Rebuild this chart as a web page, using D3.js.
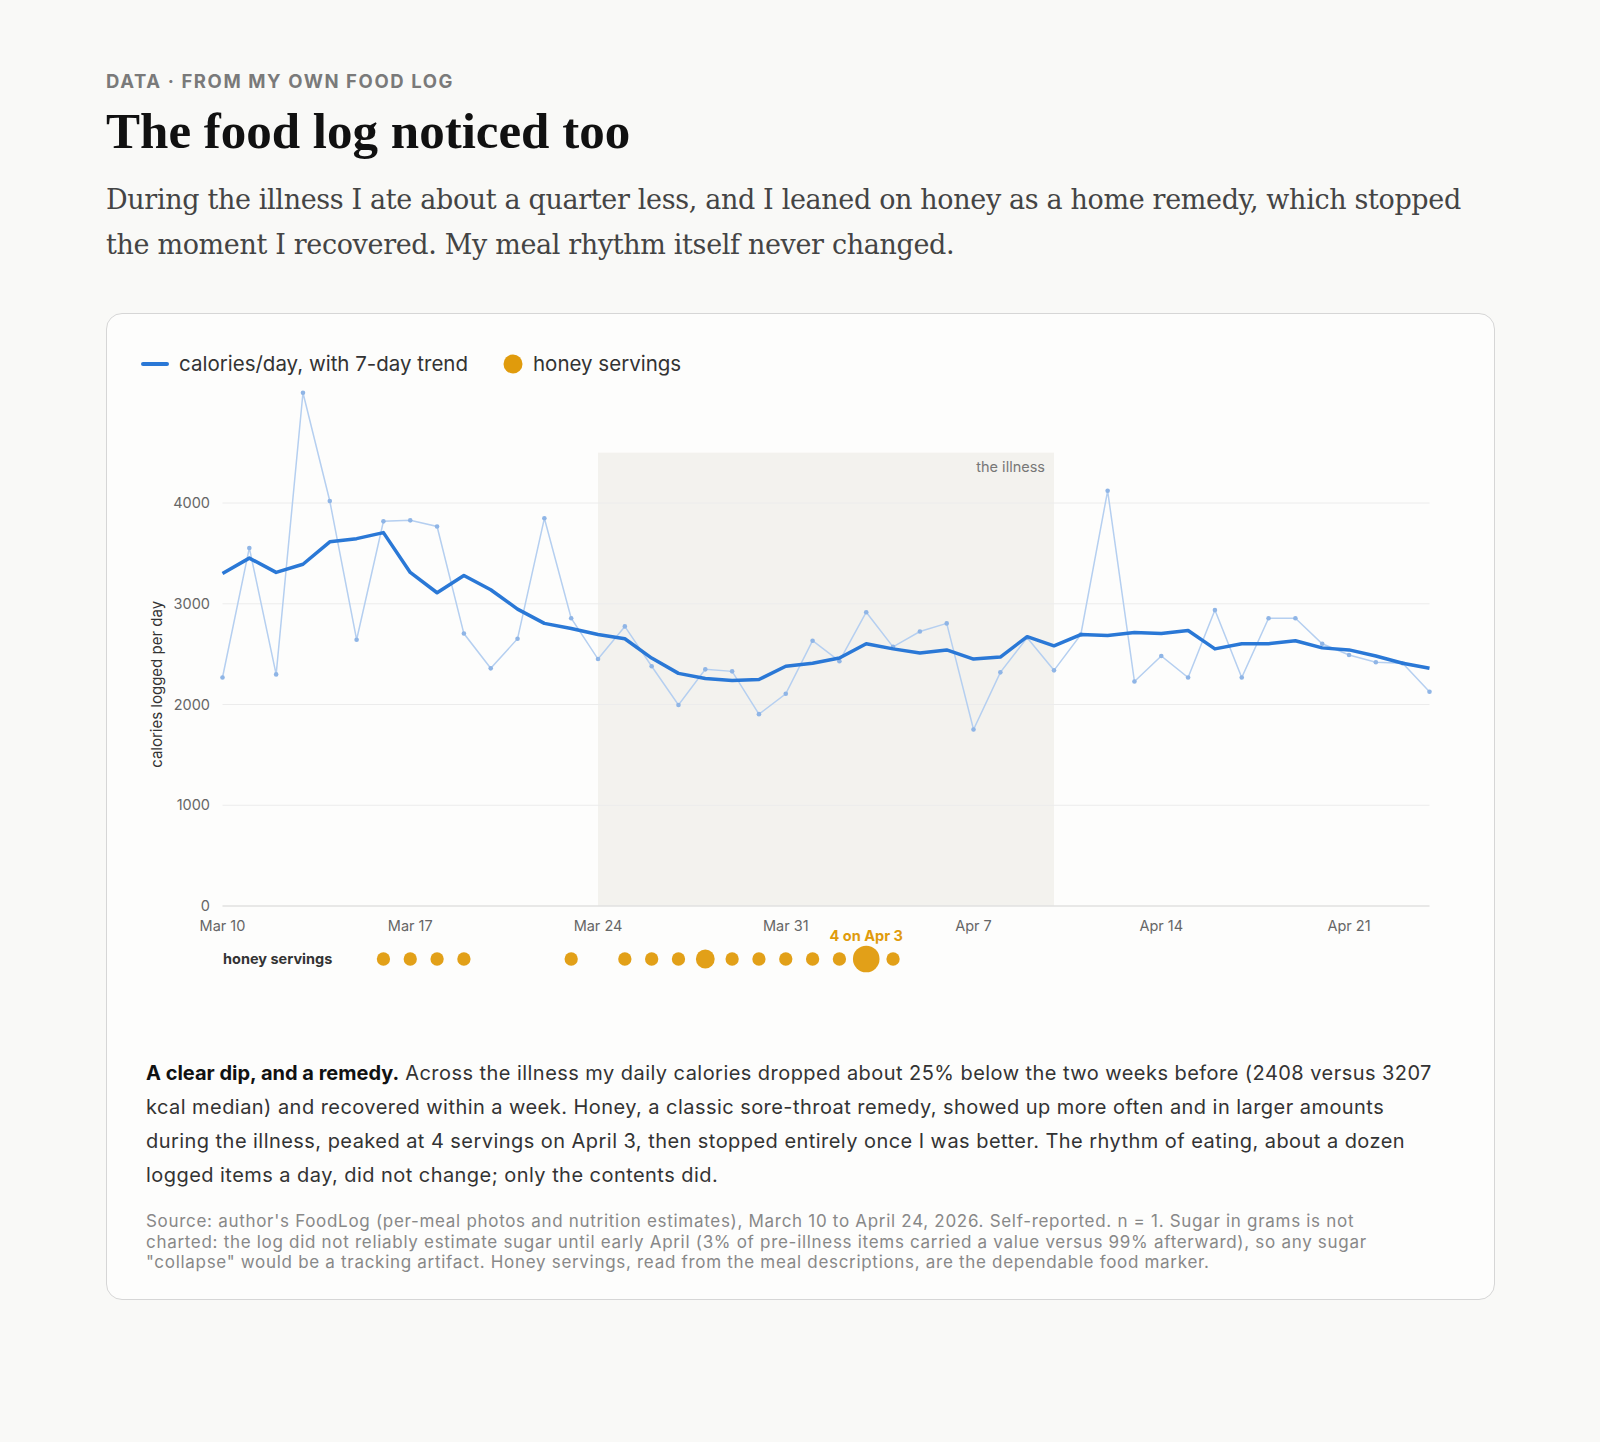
<!DOCTYPE html>
<html><head><meta charset="utf-8">
<script src="https://cdn.jsdelivr.net/npm/d3@7"></script>
<style>
body{margin:0;background:#f9f9f7;font-family:Inter,"Noto Sans",sans-serif;color:#222;}
.wrap{position:absolute;left:106px;top:0;width:1390px;}
.kicker{position:absolute;top:70px;font-size:18.5px;font-weight:700;letter-spacing:1.6px;color:#7a7a7a;}
h1{position:absolute;top:102px;margin:0;font-family:"Liberation Serif","Times New Roman",serif;font-size:51px;font-weight:700;color:#111;white-space:nowrap;}
.dek{position:absolute;top:177px;width:1390px;font-family:"DejaVu Serif",Georgia,serif;font-size:27px;line-height:45px;color:#444;letter-spacing:-0.35px;}
.card{position:absolute;left:106px;top:313px;width:1387px;height:985px;border:1.5px solid #d6d6d6;border-radius:16px;background:#fdfdfc;}
.note{position:absolute;left:39px;top:742px;width:1292px;font-size:20px;line-height:34px;color:#333;letter-spacing:0.45px;}
.src{position:absolute;left:39px;top:897px;width:1250px;font-size:17px;line-height:20.5px;color:#888;letter-spacing:0.7px;}
svg{position:absolute;left:0;top:0;}
</style></head><body>
<div class="wrap">
<div class="kicker">DATA · FROM MY OWN FOOD LOG</div>
<h1>The food log noticed too</h1>
<div class="dek">During the illness I ate about a quarter less, and I leaned on honey as a home remedy, which stopped the moment I recovered. My meal rhythm itself never changed.</div>
</div>
<div class="card">
<div class="note"><b style="color:#111;letter-spacing:0">A clear dip, and a remedy.</b> Across the illness my daily calories dropped about 25% below the two weeks before (2408 versus 3207 kcal median) and recovered within a week. Honey, a classic sore-throat remedy, showed up more often and in larger amounts during the illness, peaked at 4 servings on April 3, then stopped entirely once I was better. The rhythm of eating, about a dozen logged items a day, did not change; only the contents did.</div>
<div class="src">Source: author's FoodLog (per-meal photos and nutrition estimates), March 10 to April 24, 2026. Self-reported. n = 1. Sugar in grams is not charted: the log did not reliably estimate sugar until early April (3% of pre-illness items carried a value versus 99% afterward), so any sugar "collapse" would be a tracking artifact. Honey servings, read from the meal descriptions, are the dependable food marker.</div>
</div>
<svg id="chart" width="1600" height="1000"></svg>
<script>
// daily calories, Mar 10 .. Apr 24
var daily = [2268,3554,2299,5094,4020,2643,3818,3828,3767,2704,2359,2653,3848,2856,2451,2775,2380,1995,2349,2329,1904,2106,2633,2430,2916,2572,2724,2805,1752,2319,2663,2339,2694,4121,2228,2481,2268,2937,2268,2856,2856,2603,2491,2420,2410,2127];
var trend = [3301,3453,3311,3392,3615,3646,3706,3311,3109,3281,3139,2947,2805,2754,2694,2653,2461,2309,2258,2238,2248,2380,2410,2461,2603,2552,2511,2542,2451,2471,2673,2582,2694,2684,2714,2704,2734,2552,2603,2603,2633,2562,2542,2481,2410,2359];
// honey servings by day index
var honeyDays = [6,7,8,9,13,15,16,17,18,19,20,21,22,23,24,25];
var honeyCount = [1,1,1,1,1,1,1,1,2,1,1,1,1,1,4,1];
var illness = [new Date(2026,2,24), new Date(2026,3,10)];
var yTicks = [0,1000,2000,3000,4000];

var start = new Date(2026,2,10);
var dates = daily.map(function(d,i){ return d3.timeDay.offset(start,i); });

var svg = d3.select("#chart");
var x = d3.scaleTime().domain([start, dates[dates.length-1]]).range([222.5,1429.5]);
var y = d3.scaleLinear().domain([0,4000]).range([906,503]);
var r = d3.scaleSqrt().domain([0,4]).range([0,13.3]);
var blue = "#2a78d6", honey = "#e09b0c";

// illness band
svg.append("rect").attr("x",x(illness[0])).attr("width",x(illness[1])-x(illness[0]))
  .attr("y",y(4500)).attr("height",y(0)-y(4500)).attr("fill","#f3f2ee");
svg.append("text").attr("x",x(illness[1])-9).attr("y",y(4500)+19).attr("text-anchor","end")
  .attr("font-size",14.5).attr("fill","#777").text("the illness");

// grid
svg.selectAll(".grid").data(yTicks).enter().append("line")
  .attr("x1",x.range()[0]).attr("x2",x.range()[1]).attr("y1",y).attr("y2",y)
  .attr("stroke",function(d){ return d===0?"#e0e0e0":"#ececec"; }).attr("stroke-width",function(d){return d===0?1.5:1;});
svg.selectAll(".yt").data(yTicks).enter().append("text")
  .attr("x",210).attr("y",function(d){ return y(d)+5; }).attr("text-anchor","end")
  .attr("font-size",14.5).attr("fill","#666").text(function(d){ return d; });
svg.append("text").attr("transform","translate(162,"+y(2200)+") rotate(-90)")
  .attr("text-anchor","middle").attr("font-size",15).attr("fill","#333").text("calories logged per day");

// x ticks
var xTicks = d3.timeDay.range(start, d3.timeDay.offset(dates[dates.length-1],1), 7);
svg.selectAll(".xt").data(xTicks).enter().append("text")
  .attr("x",x).attr("y",931).attr("text-anchor","middle").attr("font-size",14.5).attr("fill","#666")
  .text(d3.timeFormat("%b %-d"));

// daily line
var line = d3.line().x(function(d,i){ return x(dates[i]); }).y(function(d){ return y(d); });
svg.append("path").datum(daily).attr("d",line).attr("fill","none").attr("stroke","#b5cff0").attr("stroke-width",1.5);
svg.selectAll(".dp").data(daily).enter().append("circle")
  .attr("cx",function(d,i){ return x(dates[i]); }).attr("cy",y).attr("r",2.3).attr("fill","#8fb5e6");
svg.append("path").datum(trend).attr("d",line).attr("fill","none").attr("stroke",blue).attr("stroke-width",3.5).attr("stroke-linejoin","round");

// honey row
svg.append("text").attr("x",223).attr("y",964).attr("font-size",14.5).attr("font-weight",700).attr("fill","#333").text("honey servings");
svg.selectAll(".hd").data(honeyDays).enter().append("circle")
  .attr("cx",function(d){ return x(dates[d]); }).attr("cy",959)
  .attr("r",function(d,i){ return r(honeyCount[i]); }).attr("fill",honey).attr("opacity",0.95);
var mi = honeyCount.indexOf(d3.max(honeyCount));
svg.append("text").attr("x",x(dates[honeyDays[mi]])).attr("y",941).attr("text-anchor","middle")
  .attr("font-size",14.5).attr("font-weight",700).attr("fill",honey)
  .text(d3.max(honeyCount)+" on "+d3.timeFormat("%b %-d")(dates[honeyDays[mi]]));

// legend
svg.append("line").attr("x1",143).attr("x2",167).attr("y1",364).attr("y2",364).attr("stroke",blue).attr("stroke-width",4).attr("stroke-linecap","round");
svg.append("text").attr("x",179).attr("y",371).attr("font-size",20.5).attr("fill","#333").text("calories/day, with 7-day trend");
svg.append("circle").attr("cx",513).attr("cy",364).attr("r",9.5).attr("fill",honey);
svg.append("text").attr("x",533).attr("y",371).attr("font-size",20.5).attr("fill","#333").text("honey servings");
</script>
</body></html>
